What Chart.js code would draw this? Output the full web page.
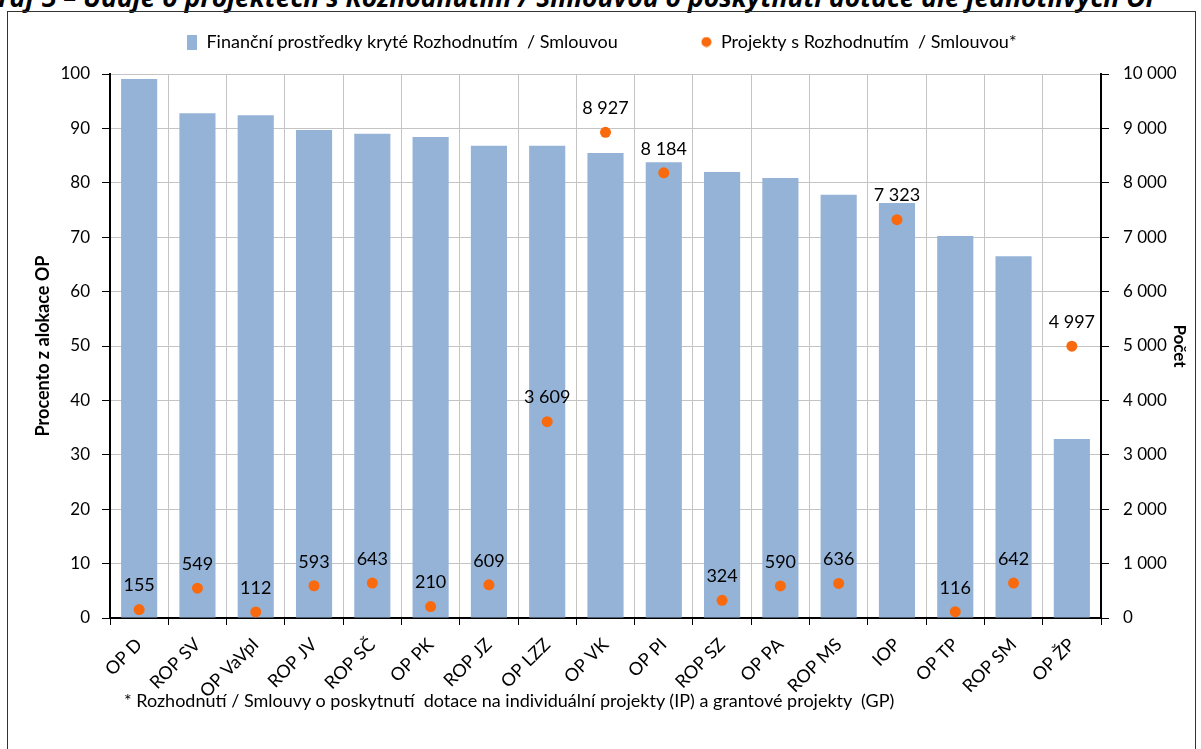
<!DOCTYPE html>
<html>
<head>
<meta charset="utf-8">
<script src="https://cdn.jsdelivr.net/npm/chart.js@4"></script>
<style>
  body { margin: 0; background: #fff; font-family: Lato, 'Open Sans', sans-serif; overflow: hidden; }
  #title { position: absolute; left: -20px; top: -21px; line-height: 26px; white-space: nowrap; font: italic bold 26.5px 'Open Sans', sans-serif; color: #000; }
  #frame { position: absolute; left: 7px; top: 11px; width: 1189px; height: 770px; border: 1px solid #333; box-sizing: border-box; }
  #wrap { position: absolute; left: 9px; top: 19px; width: 1185px; height: 720px; }
  #note { position: absolute; left: 124px; top: 689px; font-size: 18px; color: #000; }
</style>
</head>
<body>
<div id="title">Graf 3 – Údaje o projektech s Rozhodnutím / Smlouvou o poskytnutí dotace dle jednotlivých OP</div>
<div id="frame"></div>
<div id="wrap"><canvas id="c"></canvas></div>
<div id="note">* Rozhodnutí / Smlouvy o poskytnutí&nbsp; dotace na individuální projekty (IP) a grantové projekty&nbsp; (GP)</div>
<script>
const categories = ['OP D', 'ROP SV', 'OP VaVpI', 'ROP JV', 'ROP SČ', 'OP PK', 'ROP JZ', 'OP LZZ', 'OP VK', 'OP PI', 'ROP SZ', 'OP PA', 'ROP MS', 'IOP', 'OP TP', 'ROP SM', 'OP ŽP'];
const percentCovered = [99.1, 92.8, 92.4, 89.7, 89.0, 88.4, 86.8, 86.8, 85.5, 83.8, 82.0, 80.9, 77.8, 76.3, 70.2, 66.5, 32.9];
const projectCount = [155, 549, 112, 593, 643, 210, 609, 3609, 8927, 8184, 324, 590, 636, 7323, 116, 642, 4997];

const BAR = '#95b3d7', DOT = '#f96a0e';
const fmt = n => String(n).replace(/\B(?=(\d{3})+(?!\d))/g, ' ');
const FONT = 'Lato, "Open Sans", sans-serif';
Chart.defaults.font.family = FONT;
Chart.defaults.color = '#000';

// small canvases used as legend markers
function marker(w, h, draw) {
  const c = document.createElement('canvas');
  c.width = w; c.height = h;
  draw(c.getContext('2d'));
  return c;
}
const barMark = marker(10, 15, g => { g.fillStyle = BAR; g.fillRect(0, 0, 10, 15); });
const dotMark = marker(11, 11, g => { g.fillStyle = DOT; g.beginPath(); g.arc(5.5, 5.5, 5, 0, Math.PI * 2); g.fill(); });

const pointLabels = {
  id: 'pointLabels',
  beforeLayout(chart) {
    const lg = chart.legend;
    if (lg && !lg._fixed) {
      const fit = lg.fit;
      lg.fit = function () { fit.call(this); this.height = 55; };
      lg._fixed = true;
    }
  },
  afterDatasetsDraw(chart) {
    const ctx = chart.ctx;
    const meta = chart.getDatasetMeta(1);
    ctx.save();
    ctx.font = '18px ' + FONT;
    ctx.fillStyle = '#000';
    ctx.textAlign = 'center';
    ctx.textBaseline = 'middle';
    meta.data.forEach((p, i) => ctx.fillText(fmt(projectCount[i]), p.x, p.y - 24));
    ctx.restore();
  }
};

// gap between legend items, made with spaces
const mctx = document.createElement('canvas').getContext('2d');
mctx.font = '18px ' + FONT;
const spaceW = mctx.measureText(' ').width;
const gapSpaces = ' '.repeat(Math.round(70 / spaceW));

new Chart(document.getElementById('c'), {
  data: {
    labels: categories,
    datasets: [
      { type: 'bar', label: 'Finanční prostředky kryté Rozhodnutím  / Smlouvou', data: percentCovered, yAxisID: 'y',
        backgroundColor: BAR, borderWidth: 0, barPercentage: 0.62, categoryPercentage: 1, order: 2 },
      { type: 'line', label: 'Projekty s Rozhodnutím  / Smlouvou*', data: projectCount, yAxisID: 'y2',
        showLine: false, pointRadius: 5.5, pointHoverRadius: 5.5, pointBackgroundColor: DOT, pointBorderWidth: 0,
        backgroundColor: DOT, borderColor: DOT, pointStyle: 'circle', order: 1 }
    ]
  },
  plugins: [pointLabels],
  options: {
    responsive: true, maintainAspectRatio: false, animation: false,
    layout: { padding: { top: 0, left: 0, right: 0, bottom: 0 } },
    plugins: {
      legend: {
        position: 'top',
        labels: {
          usePointStyle: true, boxHeight: 15, boxWidth: 11, font: { size: 18 }, padding: 14,
          generateLabels: chart => chart.data.datasets.map((ds, i) => ({
            text: i === 0 ? ds.label + gapSpaces : ds.label,
            fillStyle: i === 0 ? BAR : DOT, strokeStyle: 'transparent', lineWidth: 0,
            pointStyle: i === 0 ? barMark : dotMark, datasetIndex: i, hidden: false
          }))
        }
      },
      tooltip: { enabled: false }
    },
    scales: {
      x: {
        afterFit: s => { s.height = 121; },
        ticks: { minRotation: 45, maxRotation: 45, font: { size: 18 }, padding: 9 },
        grid: { color: '#c4c4c4', tickColor: '#000', tickLength: 7, offset: true },
        border: { color: '#000', width: 2 }
      },
      y: {
        position: 'left', min: 0, max: 100,
        afterFit: s => { s.width = 101; },
        ticks: { stepSize: 10, font: { size: 17 }, padding: 12 },
        title: { display: true, text: 'Procento z alokace OP', font: { size: 18, weight: 'bold' }, padding: { top: 23, bottom: 4 } },
        grid: { color: '#c4c4c4', tickColor: '#000', tickLength: 8 },
        border: { color: '#000', width: 2 }
      },
      y2: {
        position: 'right', min: 0, max: 10000,
        afterFit: s => { s.width = 93; },
        ticks: { stepSize: 1000, font: { size: 17 }, padding: 14, callback: v => fmt(v) },
        title: { display: true, text: 'Počet', font: { size: 17, weight: 'bold' }, padding: { top: 4, bottom: 4 } },
        grid: { drawOnChartArea: false, tickColor: '#000', tickLength: 8 },
        border: { color: '#000', width: 2 }
      }
    }
  }
});
</script>
</body>
</html>
